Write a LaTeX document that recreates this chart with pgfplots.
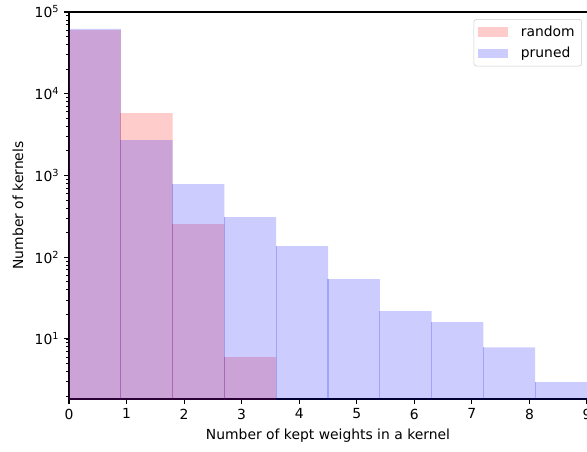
\documentclass[border=0pt]{standalone}
\usepackage{fontspec}
\setmainfont{DejaVu Sans}
\usepackage{pgfplots}
\pgfplotsset{compat=1.18}
\definecolor{mred}{rgb}{1,0,0}
\definecolor{mblue}{rgb}{0,0,1}
\begin{document}
\begin{tikzpicture}
\useasboundingbox (-49.68pt,-37.44pt) rectangle (372.96pt,287.28pt);
\begin{axis}[
  scale only axis, width=372.96pt, height=278.64pt,
  at={(0,0)}, anchor=south west,
  xmin=0, xmax=9, ymin=1.84, ymax=1e5,
  ymode=log, log basis y=10,
  axis x line*=box, axis y line*=left,
  xtick pos=left, ytick pos=left,
  tick align=outside,
  major tick length=3.5pt, minor tick length=2pt,
  every tick/.style={black, line width=0.8pt},
  minor tick style={line width=0.6pt},
  axis line style={line width=0.8pt, black},
  xtick={0,1,2,3,4,5,6,7,8,9},
  /pgf/number format/assume math mode=true,
  yticklabel={10\textsuperscript{\pgfmathprintnumber[fixed,precision=0]{\tick}}},
  tick label style={font=\fontsize{10}{12}\selectfont},
  xlabel={Number of kept weights in a kernel},
  ylabel={Number of kernels},
  label style={font=\fontsize{10}{12}\selectfont},
  xlabel style={at={(axis description cs:0.5,-0.0955)}, anchor=center},
  ylabel style={at={(axis description cs:-0.0984,0.5)}, anchor=center},
  legend style={at={(axis description cs:0.9903,0.9819)}, anchor=north east,
    draw=black!20, rounded corners=2pt, fill=white, fill opacity=0.8, text opacity=1,
    font=\fontsize{10}{12}\selectfont, inner xsep=3pt, inner ysep=2.5pt,
    row sep=2.5pt, cells={anchor=west},
    /tikz/every odd column/.append style={column sep=7.2pt}},
  clip=true,
]
\addplot[ybar interval, fill=mred, fill opacity=0.2, draw=none,
  legend image code/.code={\path[sharp corners, fill=mred, fill opacity=0.2] (0pt,-3.5pt) rectangle (21.6pt,3.5pt);}]
  coordinates {(0,60000) (0.9,5800) (1.8,254) (2.7,6.0) (3.6,6.0)};
\addlegendentry{random}
\addplot[ybar interval, fill=mblue, fill opacity=0.2, draw=none,
  legend image code/.code={\path[sharp corners, fill=mblue, fill opacity=0.2] (0pt,-3.5pt) rectangle (21.6pt,3.5pt);}]
  coordinates {(0,62000) (0.9,2710) (1.8,785) (2.7,310) (3.6,137) (4.5,54) (5.4,21.9) (6.3,16.1) (7.2,7.9) (8.1,2.96) (9,2.96)};
\addlegendentry{pruned}
% seams between adjacent bars
\addplot[forget plot, mred, opacity=0.2, line width=0.75pt, unbounded coords=jump]
  coordinates {(0.9,1) (0.9,5800) (nan,nan) (1.8,1) (1.8,254) (nan,nan) (2.7,1) (2.7,6.0)};
\addplot[forget plot, mblue, opacity=0.2, line width=0.75pt, unbounded coords=jump]
  coordinates {(0.9,1) (0.9,2710) (nan,nan) (1.8,1) (1.8,785) (nan,nan) (2.7,1) (2.7,310) (nan,nan)
  (3.6,1) (3.6,137) (nan,nan) (4.5,1) (4.5,54) (nan,nan) (5.4,1) (5.4,21.9) (nan,nan)
  (6.3,1) (6.3,16.1) (nan,nan) (7.2,1) (7.2,7.9) (nan,nan) (8.1,1) (8.1,2.96)};
\end{axis}
\end{tikzpicture}
\end{document}
